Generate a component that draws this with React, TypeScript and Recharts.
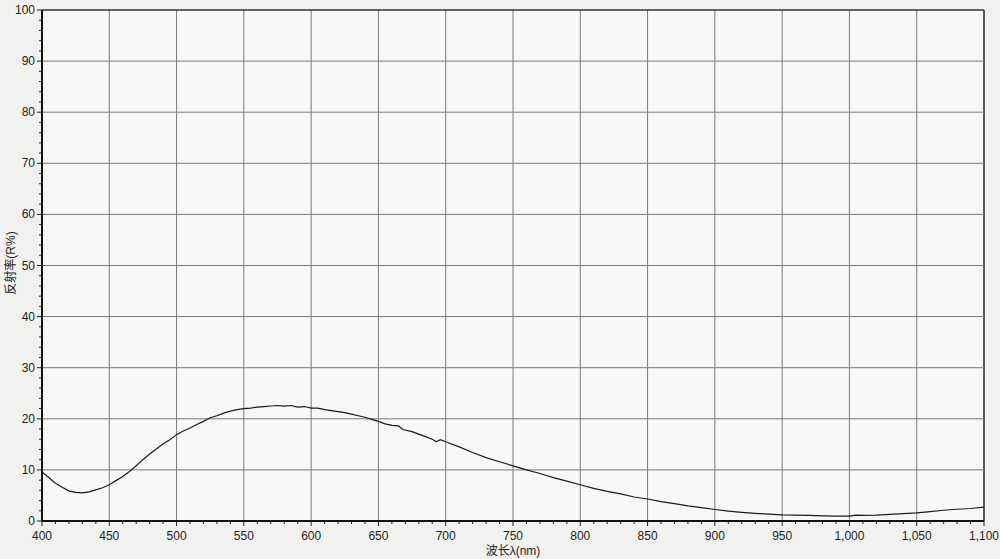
import React from 'react';
import { LineChart, Line, XAxis, YAxis, CartesianGrid, ReferenceLine } from 'recharts';

const wavelengths = [
  400, 405, 410, 415, 420, 425, 430, 435, 440, 445, 450, 455, 460, 465, 470, 475, 480, 485, 490, 495,
  500, 505, 510, 515, 520, 525, 530, 535, 540, 545, 550, 555, 560, 565, 570, 575, 580, 585, 590, 595,
  600, 605, 610, 615, 620, 625, 630, 635, 640, 645, 650, 655, 660, 665, 668, 675, 680, 685, 690, 693,
  696, 700, 710, 720, 730, 740, 750, 760, 770, 780, 790, 800, 810, 820, 830, 840, 850, 860, 870, 880,
  890, 900, 910, 920, 930, 940, 950, 960, 970, 980, 990, 1000, 1005, 1010, 1020, 1030, 1040, 1050, 1060,
  1070, 1080, 1090, 1100,
];
const reflectance = [
  9.6, 8.5, 7.4, 6.6, 5.9, 5.6, 5.5, 5.7, 6.1, 6.5, 7.1, 7.9, 8.7, 9.7, 10.8, 12.0, 13.1, 14.1, 15.1, 15.9,
  16.9, 17.6, 18.2, 18.9, 19.5, 20.2, 20.6, 21.1, 21.5, 21.8, 22.0, 22.1, 22.3, 22.4, 22.5, 22.6, 22.5, 22.6, 22.3, 22.4,
  22.1, 22.1, 21.8, 21.6, 21.4, 21.2, 20.9, 20.6, 20.3, 19.9, 19.5, 19.0, 18.7, 18.6, 17.9, 17.5, 17.0, 16.5, 16.0, 15.5,
  15.9, 15.5, 14.5, 13.4, 12.4, 11.6, 10.8, 10.0, 9.3, 8.5, 7.8, 7.1, 6.4, 5.8, 5.3, 4.7, 4.3, 3.8, 3.4, 2.95,
  2.6, 2.25, 1.95, 1.7, 1.5, 1.35, 1.2, 1.15, 1.1, 1.0, 0.95, 0.95, 1.15, 1.1, 1.15, 1.3, 1.45, 1.6, 1.85,
  2.1, 2.3, 2.45, 2.7,
];

const majorXTicks = [400, 450, 500, 550, 600, 650, 700, 750, 800, 850, 900, 950, 1000, 1050, 1100];
const minorXTicks = [
  400, 410, 420, 430, 440, 450, 460, 470, 480, 490, 500, 510, 520, 530, 540, 550, 560, 570, 580, 590,
  600, 610, 620, 630, 640, 650, 660, 670, 680, 690, 700, 710, 720, 730, 740, 750, 760, 770, 780, 790,
  800, 810, 820, 830, 840, 850, 860, 870, 880, 890, 900, 910, 920, 930, 940, 950, 960, 970, 980, 990,
  1000, 1010, 1020, 1030, 1040, 1050, 1060, 1070, 1080, 1090, 1100,
];
const majorYTicks = [0, 10, 20, 30, 40, 50, 60, 70, 80, 90, 100];
const minorYTicks = [
  0, 2, 4, 6, 8, 10, 12, 14, 16, 18, 20, 22, 24, 26, 28, 30, 32, 34, 36, 38, 40, 42, 44, 46, 48, 50,
  52, 54, 56, 58, 60, 62, 64, 66, 68, 70, 72, 74, 76, 78, 80, 82, 84, 86, 88, 90, 92, 94, 96, 98, 100,
];

const xTitle = '波长λ(nm)';
const yTitle = '反射率(R%)';

const data = wavelengths.map((wl, i) => ({ wl, r: reflectance[i] }));

const FONT = "'Liberation Sans', Arial, 'Noto Sans CJK SC', sans-serif";
const INK = '#1e1e1e';

const fmt = (v: number) => v.toLocaleString('en-US');

const XTick = (props: any) => {
  const { x, y, payload } = props;
  const v = payload.value as number;
  const major = majorXTicks.includes(v);
  return (
    <g>
      <line x1={x} x2={x} y1={y} y2={y + (major ? 5 : 3)} stroke={INK} strokeWidth={1} />
      {major && (
        <text x={x} y={y + 19} textAnchor="middle" fontSize={12} fill={INK} fontFamily={FONT}>
          {fmt(v)}
        </text>
      )}
    </g>
  );
};

const YTick = (props: any) => {
  const { x, y, payload } = props;
  const v = payload.value as number;
  const major = majorYTicks.includes(v);
  return (
    <g>
      <line x1={x} x2={x - (major ? 5 : 3)} y1={y} y2={y} stroke={INK} strokeWidth={1} />
      {major && (
        <text x={x - 7} y={y + 4} textAnchor="end" fontSize={12} fill={INK} fontFamily={FONT}>
          {v}
        </text>
      )}
    </g>
  );
};

export default function App() {
  return (
    <div
      style={{
        position: 'absolute',
        left: 0,
        top: 0,
        width: 1000,
        height: 559,
        background: '#f1f1ef',
        fontFamily: FONT,
        overflow: 'hidden',
      }}
    >
      <LineChart width={1000} height={559} data={data} margin={{ top: 10, right: 16, left: 0, bottom: 0 }}>
        <CartesianGrid horizontal={false} vertical={false} fill="#f8f8f6" />
        {majorXTicks.slice(1).map((v) => (
          <ReferenceLine
            key={'vx' + v}
            x={v}
            stroke={v === 1100 ? '#333' : '#7a7a7a'}
            strokeWidth={v === 1100 ? 1.6 : 1}
            ifOverflow="extendDomain"
          />
        ))}
        {majorYTicks.slice(1).map((v) => (
          <ReferenceLine
            key={'hy' + v}
            y={v}
            stroke={v === 100 ? '#333' : '#7a7a7a'}
            strokeWidth={v === 100 ? 1.4 : 1}
            ifOverflow="extendDomain"
          />
        ))}
        <XAxis
          dataKey="wl"
          type="number"
          domain={[400, 1100]}
          ticks={minorXTicks}
          interval={0}
          tickSize={0}
          tickMargin={0}
          tickLine={false}
          tick={<XTick />}
          height={38}
          axisLine={{ stroke: '#111', strokeWidth: 2 }}
          allowDataOverflow
        />
        <YAxis
          type="number"
          domain={[0, 100]}
          ticks={minorYTicks}
          interval={0}
          tickSize={0}
          tickMargin={0}
          tickLine={false}
          tick={<YTick />}
          width={42}
          axisLine={{ stroke: '#111', strokeWidth: 2 }}
          allowDataOverflow
        />
        <Line
          type="linear"
          dataKey="r"
          stroke="#1a1a1a"
          strokeWidth={1.2}
          dot={false}
          isAnimationActive={false}
        />
      </LineChart>
      <div
        style={{
          position: 'absolute',
          left: 513,
          top: 549,
          transform: 'translate(-50%, -50%)',
          fontSize: 12,
          color: INK,
          whiteSpace: 'nowrap',
        }}
      >
        {xTitle}
      </div>
      <div
        style={{
          position: 'absolute',
          left: 9,
          top: 263,
          transform: 'translate(-50%, -50%) rotate(-90deg)',
          fontSize: 12,
          color: INK,
          whiteSpace: 'nowrap',
        }}
      >
        {yTitle}
      </div>
    </div>
  );
}
